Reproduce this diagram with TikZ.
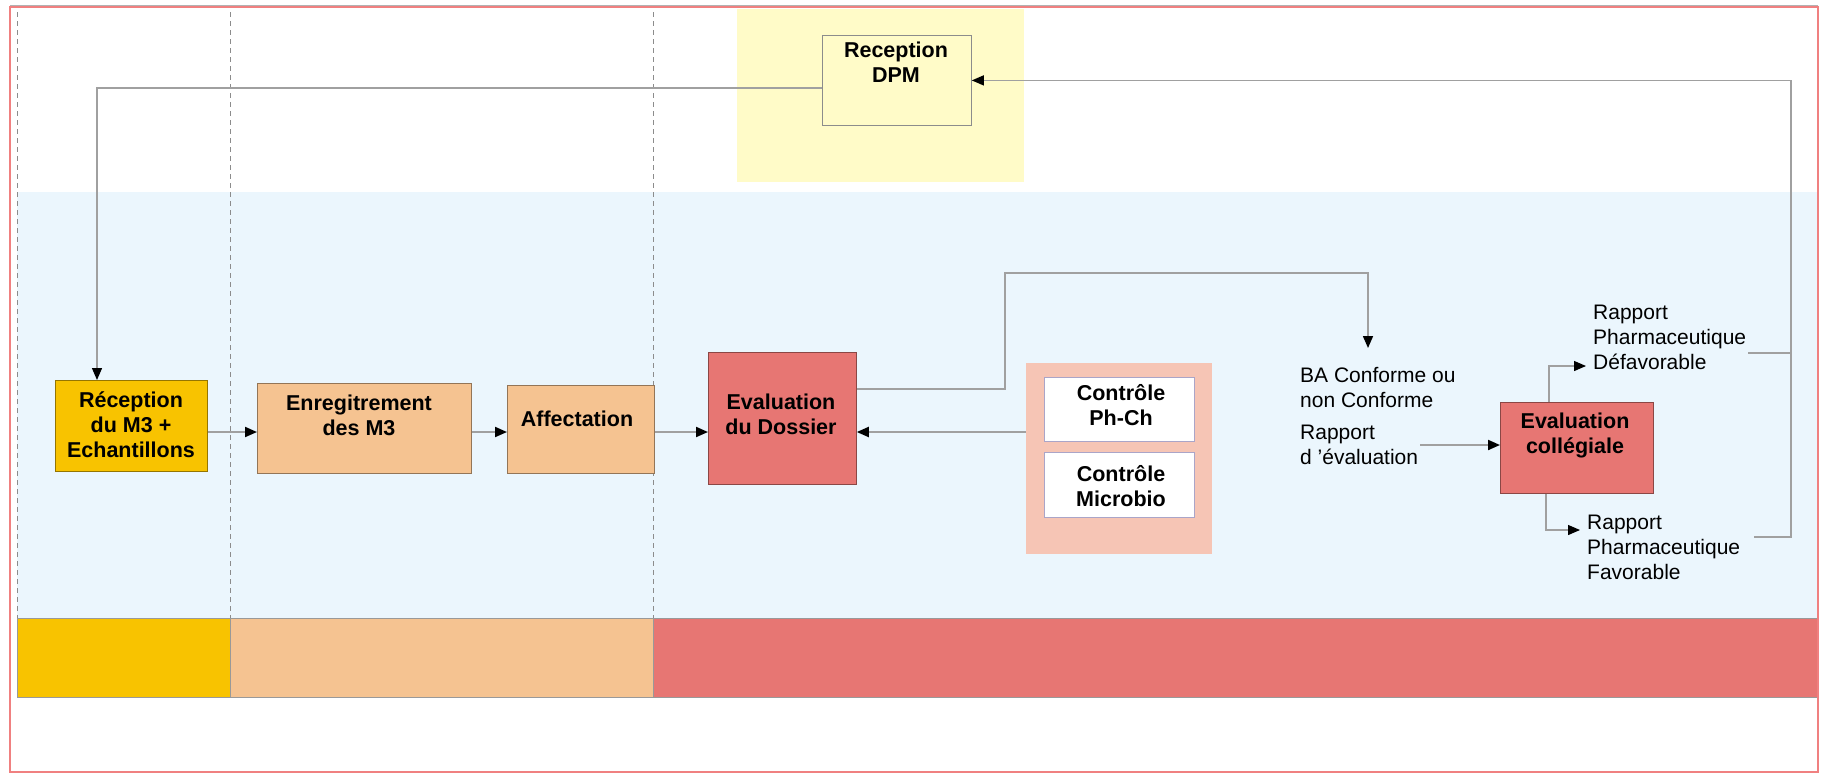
\documentclass[tikz,border=0pt]{standalone}
\usepackage{fontspec}
\setmainfont{Liberation Sans}
\usetikzlibrary{arrows.meta}
\definecolor{gold}{RGB}{248,195,0}
\definecolor{peach}{RGB}{245,195,145}
\definecolor{rose}{RGB}{231,118,115}
\definecolor{salmon}{RGB}{246,197,181}
\definecolor{skyb}{RGB}{235,246,253}
\definecolor{paley}{RGB}{255,251,200}
\definecolor{framered}{RGB}{240,128,128}
\definecolor{conn}{RGB}{160,160,160}
\definecolor{lav}{RGB}{170,165,200}
\begin{document}
\begin{tikzpicture}[x=1pt,y=-1pt,
 box/.style={draw, line width=0.8pt, inner sep=0pt, anchor=north west},
 btxt/.style={font=\fontsize{21.5}{25}\selectfont\bfseries, align=center, inner sep=1pt},
 rtxt/.style={font=\fontsize{21}{25}\selectfont, align=left, inner sep=2pt, anchor=west},
 link/.style={draw=conn, line width=2pt},
 arr/.style={link, -{Triangle[length=12pt,width=10pt,color=black]}},
 lane/.style={draw=black!45, dashed, dash pattern=on 5pt off 4pt, line width=0.7pt},
]
\useasboundingbox (0,0) rectangle (1822,774);
\fill[white] (0,0) rectangle (1822,774);
% regions
\fill[skyb] (17,192) rectangle (1818,618);
\fill[paley] (737,9) rectangle (1024,182);
% bottom bar
\draw[black!40, fill=gold] (17,618) rectangle (230,697);
\draw[black!40, fill=peach] (230,618) rectangle (653,697);
\draw[black!40, fill=rose] (653,618) rectangle (1818,697);
% lanes
\draw[lane] (17,12) -- (17,618);
\draw[lane] (230,12) -- (230,618);
\draw[lane] (653,12) -- (653,618);
% frame
\draw[black!30, line width=1pt] (10,5) -- (1818,5);
\draw[framered, line width=2pt] (10,7) rectangle (1818,772);

% boxes
\node[box, fill=paley, draw=black!45, minimum width=149pt, minimum height=90pt] (DPM) at (822,35) {};
\node[box, fill=gold, draw=gold!60!black, minimum width=152pt, minimum height=91pt] (Rec) at (55,380) {};
\node[box, fill=peach, draw=peach!60!black, minimum width=214pt, minimum height=90pt] (Enr) at (257,383) {};
\node[box, fill=peach, draw=peach!60!black, minimum width=147pt, minimum height=88pt] (Aff) at (507,385) {};
\node[box, fill=rose, draw=rose!60!black, minimum width=148pt, minimum height=132pt] (EvD) at (708,352) {};
\node[box, fill=salmon, draw=none, minimum width=186pt, minimum height=191pt] (Ctl) at (1026,363) {};
\node[box, fill=white, draw=lav, minimum width=150pt, minimum height=64pt] (PhCh) at (1044,377) {};
\node[box, fill=white, draw=lav, minimum width=150pt, minimum height=65pt] (Micro) at (1044,452) {};
\node[box, fill=rose, draw=rose!60!black, minimum width=153pt, minimum height=91pt] (EvC) at (1500,402) {};

% texts
\node[btxt] (tDPM) at (896,62.5) {Reception\\DPM};
\node[btxt] (tRec) at (131,425) {Réception\\du M3 +\\Echantillons};
\node[btxt] (tEnr) at (359,415.5) {Enregitrement\\des M3};
\node[btxt] (tAff) at (577,419) {Affectation};
\node[btxt] (tEvD) at (781,414.5) {Evaluation\\du Dossier};
\node[btxt] (tPh) at (1121,405) {Contrôle\\Ph-Ch};
\node[btxt] (tMi) at (1121,486) {Contrôle\\Microbio};
\node[btxt] (tEvC) at (1575,435) {Evaluation\\collégiale};
\node[rtxt] (BA) at (1298,387) {BA Conforme ou\\non Conforme};
\node[rtxt] (RdE) at (1298,445) {Rapport\\d ’évaluation};
\node[rtxt] (Def) at (1591,337) {Rapport\\Pharmaceutique\\Défavorable};
\node[rtxt] (Fav) at (1585,547) {Rapport\\Pharmaceutique\\Favorable};

% connectors
\coordinate (b1) at (97,88);
\draw[arr, line width=1.3pt] (DPM.west |- b1) -- (b1) -- (b1 |- Rec.north);
\coordinate (row) at (0,432);
\draw[arr] (Rec.east |- row) -- (Enr.west |- row);
\draw[arr] (Enr.east |- row) -- (Aff.west |- row);
\draw[arr] (Aff.east |- row) -- (EvD.west |- row);
\draw[arr] (Ctl.west |- row) -- (EvD.east |- row);
\coordinate (e1) at (1005,389);
\coordinate (e2) at (1005,273);
\coordinate (e3) at (1368,273);
\coordinate (e4) at (1368,348);
\draw[arr, line width=1.6pt] (EvD.east |- e1) -- (e1) -- (e2) -- (e3) -- (e4);
\draw[arr] (RdE.east) -- (EvC.west |- RdE.east);
\coordinate (d1) at (1549,366);
\draw[arr, line width=1.3pt] (d1 |- EvC.north) -- (d1) -- ([xshift=-5pt]Def.west |- d1);
\coordinate (f1) at (1546,530);
\draw[arr, line width=1.3pt] (f1 |- EvC.south) -- (f1) -- ([xshift=-5pt]Fav.west |- f1);
\coordinate (r1) at (1791,353);
\coordinate (r2) at (1791,537);
\draw[link, line width=1.3pt] (Def.east |- r1) -- (r1);
\draw[arr, line width=1.3pt] ([xshift=12pt]Fav.east |- r2) -- (r2) -- (r2 |- DPM.east) -- (DPM.east);
\end{tikzpicture}
\end{document}
